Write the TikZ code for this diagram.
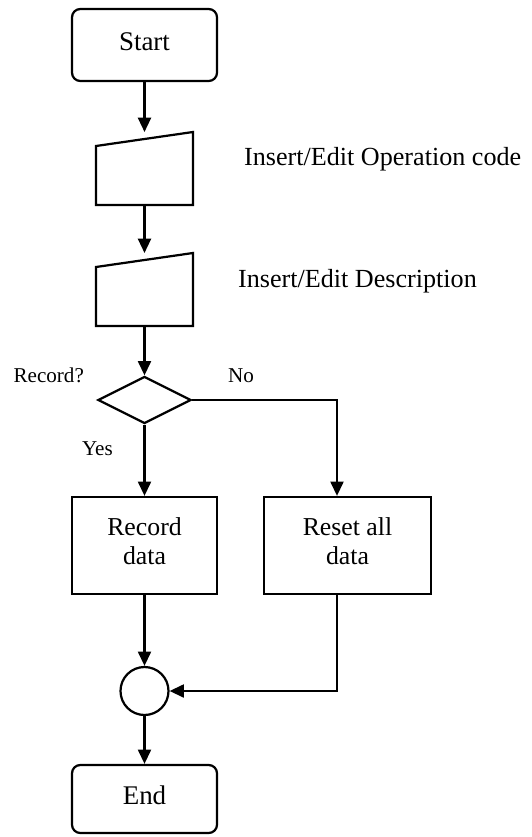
\documentclass[tikz,border=0pt]{standalone}
\usepackage{fontspec}
\setmainfont{Liberation Serif}
\usepackage{tikz}
\usetikzlibrary{shapes.geometric, arrows.meta, calc}
\tikzset{
every picture/.style={line width=1.9pt, >={Triangle[length=0.43cm,width=0.39cm]}},
%%%%%%%%%%  Node styles
terminal/.style={draw, rectangle, rounded corners=0.25cm, minimum width=4.35cm,
                 minimum height=2.16cm, inner sep=0pt, text depth=6pt,
                 font=\fontsize{23}{26}\selectfont},
process/.style={draw, rectangle, minimum width=4.35cm, minimum height=2.91cm,
                align=center, inner sep=0pt, text depth=8pt,
                font=\fontsize{22}{24.5}\selectfont},
manual_in/.style={rectangle, minimum width=2.91cm, minimum height=2.19cm,
                  inner sep=0pt, outer sep=0pt},
decision/.style={draw, diamond, minimum width=2.79cm, minimum height=1.41cm,
                 inner sep=0pt},
junction/.style={draw, circle, minimum size=1.44cm, inner sep=0pt},
%%%%%%% text beside the chart
note/.style={font=\fontsize{22.3}{26}\selectfont, anchor=base west, inner sep=0pt},
small_note/.style={font=\fontsize{18}{21}\selectfont, anchor=base west, inner sep=0pt}
}

\begin{document}
\begin{tikzpicture}[x=0.03cm,y=-0.03cm]
\useasboundingbox (0,0) rectangle (532,837);
%%main column
\node[terminal] (start) at (144.5,45) {Start};
\node[manual_in] (opcode) at (144.5,168.5) {};
\draw (opcode.south west) -- (opcode.south east) -- (opcode.north east)
	-- ($(opcode.north west)+(0,14)$) -- cycle;
\node[manual_in] (descr) at (144.5,289.5) {};
\draw (descr.south west) -- (descr.south east) -- (descr.north east)
	-- ($(descr.north west)+(0,14)$) -- cycle;
\node[decision] (record_q) at (144.5,400) {};
\node[process] (record) at (144.5,545.5) {Record\\data};
\node[process, minimum width=5.01cm] (reset) at (347.5,545.5) {Reset all\\data};
\node[junction] (merge) at (144.5,691) {};
\node[terminal, minimum height=2.04cm] (end) at (144.5,799) {End};
%%labels
\node[note] (opcode_lbl) at (243,165) {Insert/Edit Operation code};
\node[note] (descr_lbl) at (237,287) {Insert/Edit Description};
\node[small_note] (q_lbl) at (12.5,382) {Record?};
\node[small_note] (no_lbl) at (227,382) {No};
\node[small_note] (yes_lbl) at (81,455) {Yes};
%%arrows
\draw[->] (start) -- (opcode);
\draw[->] (opcode) -- (descr);
\draw[->] (descr) -- (record_q);
\draw[->] (record_q) -- (record);
\draw[->] (record_q.east) -| ($(reset.north)+(-10.5,0)$);
\draw[->] (record) -- (merge);
\draw[->] ($(reset.south)+(-10.5,0)$) |- (merge.east);
\draw[->] (merge) -- (end);
\end{tikzpicture}
\end{document}
